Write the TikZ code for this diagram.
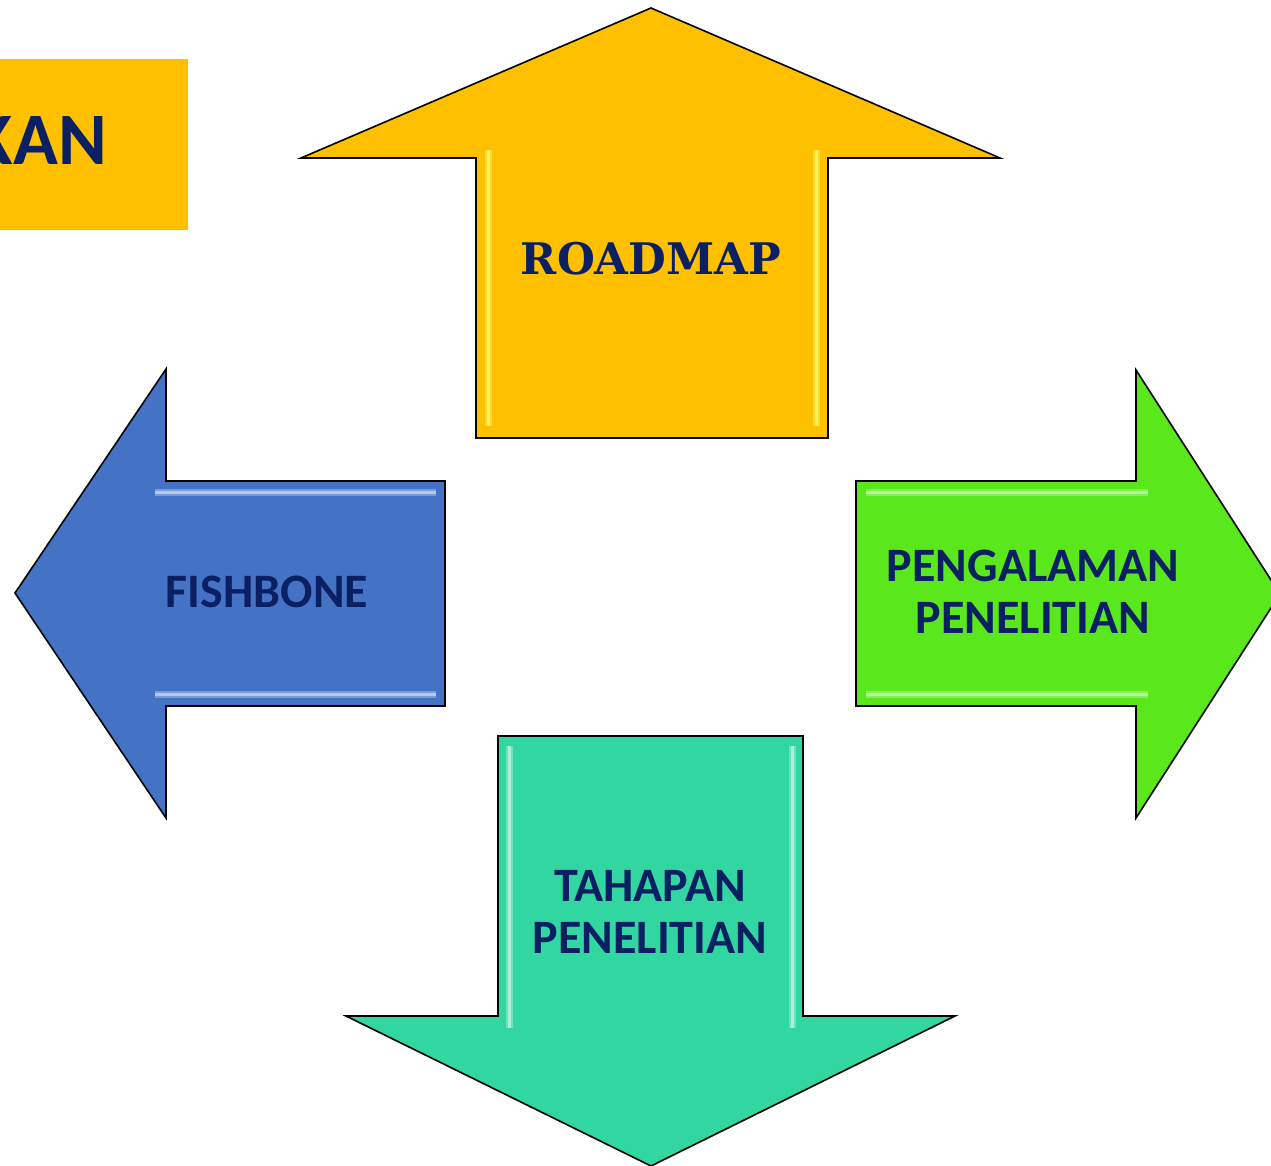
\documentclass[tikz,border=0pt]{standalone}
\usepackage{fontspec}
\setmainfont{Carlito}
\newfontfamily\slabfont{DejaVu Serif}
\definecolor{titlenavy}{HTML}{0A2062}
\definecolor{roadyellow}{HTML}{FFC000}
\definecolor{fishblue}{HTML}{4472C4}
\definecolor{penggreen}{HTML}{5AE81C}
\definecolor{tahapteal}{HTML}{31D6A1}
\begin{document}
\begin{tikzpicture}[x=1pt,y=-1pt,
    arrowshape/.style={draw=black,line width=1.6pt,line join=miter},
    shine/.style={line width=7pt,line cap=butt,opacity=0.45,
        postaction={draw,line width=3pt,opacity=0.9}},
    lbl/.style={text=titlenavy,font=\bfseries\fontsize{48}{52}\selectfont,align=center,inner sep=0pt}]
    \useasboundingbox (0,0) rectangle (1271,1166);
        \fill[roadyellow] (0,59) rectangle (188,230);
        \node[text=titlenavy,font=\bfseries\fontsize{74}{80}\selectfont,anchor=east,inner sep=0pt] (kan) at (107,141) {KAN};
        \draw[arrowshape,fill=roadyellow] (651,8) -- (1000,158) -- (828,158) -- (828,438) -- (476,438) -- (476,158) -- (301,158) -- cycle;
        \draw[shine,yellow!60!white] (488,150) -- (488,426);
        \draw[shine,yellow!60!white] (816,150) -- (816,426);
        \draw[arrowshape,fill=fishblue] (15,593) -- (166,369) -- (166,481) -- (445,481) -- (445,706) -- (166,706) -- (166,818) -- cycle;
        \draw[shine,fishblue!35!white] (155,492) -- (436,492);
        \draw[shine,fishblue!35!white] (155,694) -- (436,694);
        \draw[arrowshape,fill=penggreen] (1280,594) -- (1136,818) -- (1136,706) -- (856,706) -- (856,481) -- (1136,481) -- (1136,370) -- cycle;
        \draw[shine,penggreen!40!white] (866,492) -- (1148,492);
        \draw[shine,penggreen!40!white] (866,694) -- (1148,694);
        \draw[arrowshape,fill=tahapteal] (651,1166) -- (346,1016) -- (498,1016) -- (498,736) -- (803,736) -- (803,1016) -- (955,1016) -- cycle;
        \draw[shine,tahapteal!35!white] (509,746) -- (509,1028);
        \draw[shine,tahapteal!35!white] (792,746) -- (792,1028);
            \node[lbl,font=\slabfont\bfseries\fontsize{43.5}{52}\selectfont] (roadmap) at (651,259) {ROADMAP};
            \node[lbl] (fishbone) at (267,592) {FISHBONE};
            \node[lbl] (pengalaman) at (1033,592) {PENGALAMAN\\PENELITIAN};
            \node[lbl] (tahapan) at (650,912) {TAHAPAN\\PENELITIAN};
\end{tikzpicture}
\end{document}
